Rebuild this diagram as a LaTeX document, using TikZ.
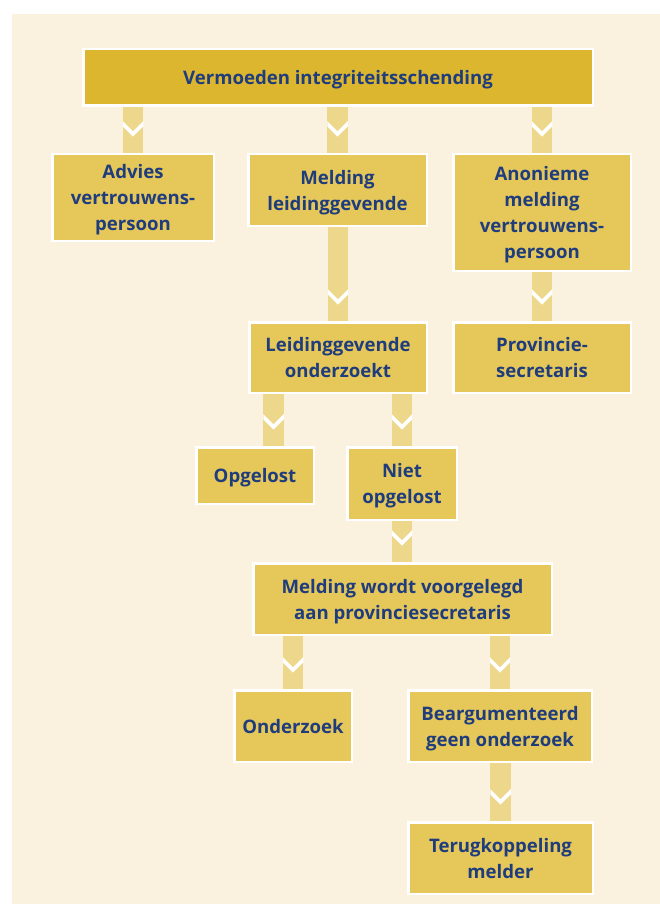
\documentclass[tikz,border=0pt]{standalone}
\usepackage{fontspec}
\setmainfont{Open Sans}
\usetikzlibrary{calc}
\definecolor{topc}{HTML}{DCB62E}
\definecolor{boxc}{HTML}{E5C75A}
\definecolor{barc}{HTML}{EDD78B}
\definecolor{cream}{HTML}{FAF2DE}
\definecolor{navy}{HTML}{1F3C7C}
\tikzset{
  box/.style={draw=white, line width=2.5pt, fill=boxc, text=navy,
    font=\bfseries\fontsize{18.6}{26}\selectfont, align=center, inner sep=0pt,
    text depth=0pt},
  chev/.style={draw=white, line width=3.8pt, miter limit=10},
}
\newcommand\linkbar[3]{%
  \fill[barc] ($(#3 |- #1.south)+(-10.25,0)$) rectangle ($(#3 |- #2.north)+(10.25,0)$);
  \begin{scope}
    \clip ($(#3 |- #1.south)+(-10.25,0)$) rectangle ($(#3 |- #2.north)+(10.25,0)$);
    \draw[chev] ($(#3 |- #2.north)+(-13,-32)$) -- ($(#3 |- #2.north)+(0,-19)$) -- ($(#3 |- #2.north)+(13,-32)$);
  \end{scope}}
\begin{document}
\begin{tikzpicture}[x=1pt,y=-1pt]
\useasboundingbox (0,0) rectangle (660,904);
\fill[white] (0,0) rectangle (660,904);
\fill[cream] (12,14) rectangle (660,904);

\node[box, fill=topc, minimum width=509.5pt, minimum height=56.5pt] (top) at (338,77.5) {Vermoeden integriteitsschending};
\node[box, minimum width=161.5pt, minimum height=86.5pt] (advies) at (133,197.5) {Advies\\vertrouwens-\\persoon};
\node[box, minimum width=178.5pt, minimum height=71.5pt] (meld) at (337.5,190) {Melding\\leidinggevende};
\node[box, minimum width=177.5pt, minimum height=116.5pt] (anon) at (542,212.5) {Anonieme\\melding\\vertrouwens-\\persoon};
\node[box, minimum width=177.5pt, minimum height=70.5pt] (leid) at (338,357.5) {Leidinggevende\\onderzoekt};
\node[box, minimum width=177.5pt, minimum height=70.5pt] (prov) at (542,357.5) {Provincie-\\secretaris};
\node[box, minimum width=117.5pt, minimum height=56.5pt] (opg) at (255,475.5) {Opgelost};
\node[box, minimum width=109.5pt, minimum height=72.5pt] (niet) at (402,483.5) {Niet\\opgelost};
\node[box, minimum width=298.5pt, minimum height=71.5pt] (mwv) at (402.5,599) {Melding wordt voorgelegd\\aan provinciesecretaris};
\node[box, minimum width=117.5pt, minimum height=71.5pt] (ond) at (293,726) {Onderzoek};
\node[box, minimum width=183.5pt, minimum height=71.5pt] (bearg) at (500,726) {Beargumenteerd\\geen onderzoek};
\node[box, minimum width=184.5pt, minimum height=71.5pt] (terug) at (500.5,858) {Terugkoppeling\\melder};

\coordinate (opgx) at (273.5,446);

\linkbar{top}{advies}{advies.north}
\linkbar{top}{meld}{meld.north}
\linkbar{top}{anon}{anon.north}
\linkbar{meld}{leid}{leid.north}
\linkbar{anon}{prov}{prov.north}
\linkbar{leid}{opg}{opgx}
\linkbar{leid}{niet}{niet.north}
\linkbar{niet}{mwv}{niet.north}
\linkbar{mwv}{ond}{ond.north}
\linkbar{mwv}{bearg}{bearg.north}
\linkbar{bearg}{terug}{terug.north}
\end{tikzpicture}
\end{document}
